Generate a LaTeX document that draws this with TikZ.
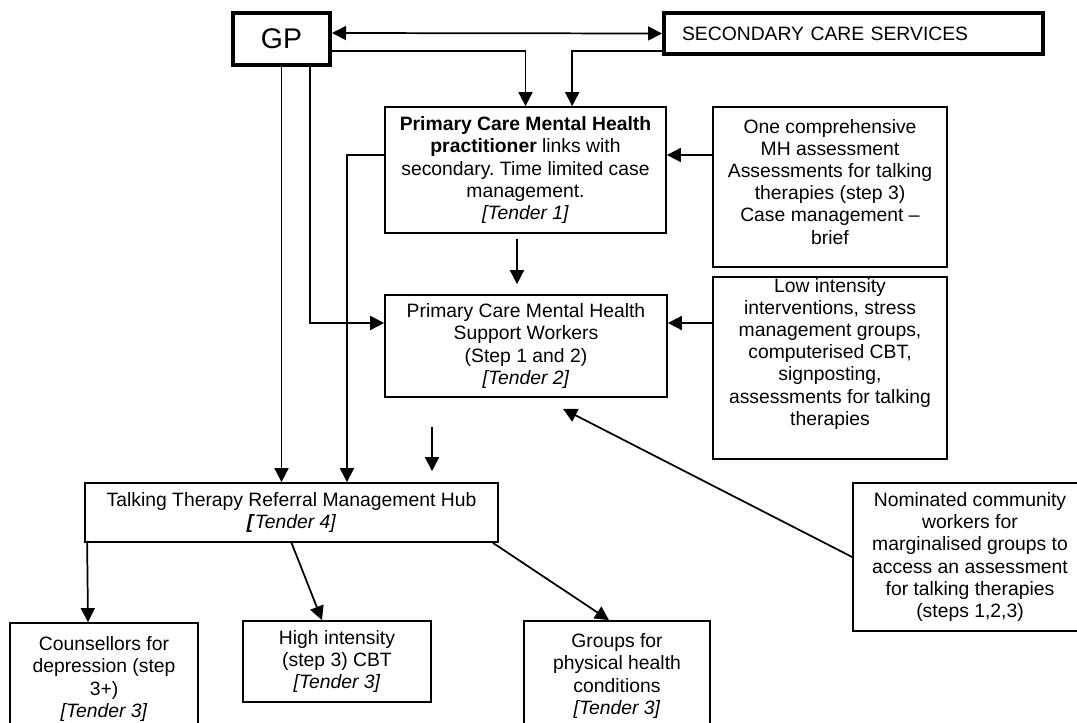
\documentclass[tikz,border=0pt]{standalone}
\usepackage{fontspec}
\setmainfont{Liberation Sans}
\usetikzlibrary{arrows.meta}
\frenchspacing
\begin{document}
\begin{tikzpicture}[x=0.75pt, y=-0.75pt,
  box/.style={draw, line width=1.3pt, align=center, inner sep=0pt, font=\fontsize{14.5}{16.6}\selectfont},
  heavybox/.style={draw, line width=3pt, inner sep=0pt},
  txt/.style={align=center, inner sep=0pt, font=\fontsize{14.5}{16.6}\selectfont},
  arr/.style={line width=1.3pt, -{Triangle[length=10.5pt, width=10.5pt]}},
  dblarr/.style={line width=1.3pt, {Triangle[length=10.5pt, width=10.5pt]}-{Triangle[length=10.5pt, width=10.5pt]}}]
  \useasboundingbox (0,0) rectangle (1077,722);
  \node[heavybox, minimum width=72.75pt, minimum height=39pt, font=\fontsize{21.3}{24}\selectfont] (gp) at (281.5,39) {GP};
  \node[heavybox, minimum height=30.75pt, text width=257.25pt, inner xsep=13.5pt, align=left, font=\fontsize{14.5}{16.6}\selectfont] (secondary) at (853.5,33.5) {SECONDARY CARE SERVICES};
  \node[box, minimum width=210.75pt, minimum height=94.5pt] (practitioner) at (525.5,170) {\textbf{Primary Care Mental Health}\\ \textbf{practitioner} links with\\ secondary. Time limited case\\ management.\\ \textit{[Tender 1]}};
  \node[box, minimum width=211.5pt, minimum height=76.5pt] (support) at (526,346) {Primary Care Mental Health\\ Support Workers\\ (Step 1 and 2)\\ \textit{[Tender 2]}};
  \node[box, minimum width=175.5pt, minimum height=120pt] (mhassess) at (830,187) {};
  \node[txt, anchor=north] (mhtext) at ([yshift=-9.75pt]mhassess.north) {One comprehensive\\ MH assessment\\ Assessments for talking\\ therapies (step 3)\\ Case management –\\ brief};
  \node[box, minimum width=175.5pt, minimum height=136.5pt] (lowint) at (830,368) {};
  \node[txt, anchor=north] (lowtext) at ([yshift=-1.5pt]lowint.north) {Low intensity\\ interventions, stress\\ management groups,\\ computerised CBT,\\ signposting,\\ assessments for talking\\ therapies};
  \node[box, minimum width=309.75pt, minimum height=44.25pt] (hub) at (291.5,512.5) {Talking Therapy Referral Management Hub\\ \textbf{\textit{[}}\textit{Tender 4]}};
  \node[box, minimum width=141pt, minimum height=84pt] (counsel) at (104,679) {Counsellors for\\ depression (step\\ 3+)\\ \textit{[Tender 3]}};
  \node[box, minimum width=141pt, minimum height=60.75pt] (highint) at (337,661.5) {High intensity\\ (step 3) CBT\\ \textit{[Tender 3]}};
  \node[box, minimum width=139.5pt, minimum height=82.5pt] (groups) at (617,676) {Groups for\\ physical health\\ conditions\\ \textit{[Tender 3]}};
  \node[box, minimum width=175.5pt, minimum height=111pt] (nominated) at (970,557) {Nominated community\\ workers for\\ marginalised groups to\\ access an assessment\\ for talking therapies\\ (steps 1,2,3)};
  \draw[dblarr] ([yshift=4.5pt]gp.east) -- (secondary.west);
  \draw[arr] ([yshift=-9pt]gp.east) -| (practitioner.north);
  \draw[arr] ([yshift=-13pt]secondary.west) -| ([xshift=35pt]practitioner.north);
  \draw[arr] ([yshift=24pt]mhassess.west) -- ([yshift=11.25pt]practitioner.east);
  \draw[arr] ([yshift=33.75pt]lowint.west) -- ([yshift=17.25pt]support.east);
  \draw[arr] ([xshift=21.4pt]gp.south) |- ([yshift=17.25pt]support.west);
  \draw[arr] (gp.south) -- (gp.south |- hub.north);
  \draw[arr] ([yshift=11.25pt]practitioner.west) -| ([xshift=41.6pt]hub.north);
  \draw[arr] ([xshift=-6.4pt, yshift=-3.75pt]practitioner.south) -- ([xshift=-6.75pt, yshift=7.5pt]support.north);
  \draw[arr] ([xshift=-70.5pt, yshift=-21.75pt]support.south) -- ([xshift=105.4pt, yshift=8.25pt]hub.north);
  \draw[arr] (nominated.west) -- ([xshift=27.75pt, yshift=-8.25pt]support.south);
  \draw[arr] ([xshift=2.25pt]hub.south west) -- ([xshift=-12pt]counsel.north);
  \draw[arr] (hub.south) -- ([xshift=-11.25pt]highint.north);
  \draw[arr] ([xshift=-4.5pt]hub.south east) -- ([xshift=-6pt]groups.north);
\end{tikzpicture}
\end{document}
